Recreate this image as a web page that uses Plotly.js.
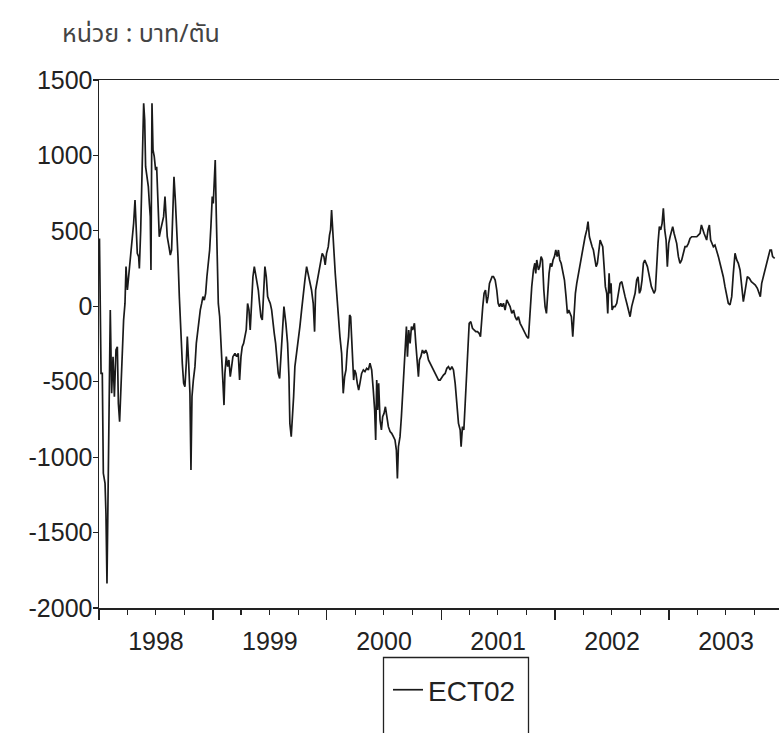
<!DOCTYPE html>
<html>
<head>
<meta charset="utf-8">
<script src="https://cdn.plot.ly/plotly-3.0.1.min.js"></script>
<style>html,body{margin:0;padding:0;background:#fff;overflow:hidden}</style>
</head>
<body>
<div id="chart" style="width:779px;height:733px"></div>
<script>
// Observation times as decimal years, and ECT02 values (baht/ton)
const decYear = [
1998.004,1998.018,1998.029,1998.038,1998.053,1998.061,1998.070,1998.076,1998.088,1998.099,
1998.111,1998.123,1998.135,1998.149,1998.161,1998.170,1998.181,1998.193,1998.205,1998.216,
1998.228,1998.237,1998.249,1998.257,1998.266,1998.278,1998.292,1998.304,1998.316,1998.325,
1998.336,1998.348,1998.354,1998.366,1998.374,1998.383,1998.392,1998.401,1998.409,1998.421,
1998.433,1998.442,1998.450,1998.456,1998.465,1998.474,1998.485,1998.497,1998.506,1998.518,
1998.529,1998.541,1998.556,1998.567,1998.579,1998.588,1998.599,1998.614,1998.626,1998.637,
1998.646,1998.658,1998.670,1998.681,1998.693,1998.705,1998.716,1998.731,1998.743,1998.754,
1998.766,1998.775,1998.787,1998.798,1998.807,1998.816,1998.828,1998.842,1998.854,1998.866,
1998.877,1998.889,1998.901,1998.912,1998.924,1998.936,1998.947,1998.959,1998.971,1998.982,
1998.994,1999.003,1999.012,1999.020,1999.029,1999.038,1999.047,1999.059,1999.067,1999.079,
1999.088,1999.097,1999.105,1999.117,1999.129,1999.140,1999.152,1999.164,1999.175,1999.193,
1999.208,1999.222,1999.234,1999.246,1999.257,1999.269,1999.281,1999.292,1999.304,1999.316,
1999.327,1999.339,1999.351,1999.363,1999.374,1999.386,1999.398,1999.409,1999.421,1999.433,
1999.444,1999.456,1999.468,1999.480,1999.491,1999.503,1999.515,1999.526,1999.538,1999.550,
1999.561,1999.573,1999.585,1999.623,1999.640,1999.655,1999.667,1999.675,1999.687,1999.696,
1999.708,1999.719,1999.734,1999.748,1999.763,1999.778,1999.792,1999.807,1999.822,1999.836,
1999.851,1999.865,1999.880,1999.892,1999.901,1999.915,1999.930,1999.944,1999.959,1999.974,
1999.985,1999.997,2000.012,2000.023,2000.032,2000.041,2000.050,2000.061,2000.073,2000.085,
2000.099,2000.114,2000.129,2000.143,2000.155,2000.167,2000.178,2000.190,2000.199,2000.208,
2000.216,2000.225,2000.234,2000.243,2000.254,2000.266,2000.278,2000.289,2000.304,2000.319,
2000.333,2000.348,2000.363,2000.377,2000.392,2000.406,2000.418,2000.427,2000.436,2000.444,
2000.453,2000.465,2000.477,2000.488,2000.500,2000.512,2000.523,2000.538,2000.553,2000.567,
2000.582,2000.596,2000.608,2000.617,2000.626,2000.640,2000.652,2000.664,2000.675,2000.687,
2000.696,2000.705,2000.716,2000.728,2000.740,2000.751,2000.766,2000.778,2000.789,2000.801,
2000.810,2000.822,2000.836,2000.851,2000.865,2000.877,2000.889,2000.903,2000.918,2000.933,
2000.947,2000.962,2000.977,2000.991,2001.006,2001.020,2001.035,2001.050,2001.064,2001.079,
2001.094,2001.108,2001.123,2001.137,2001.152,2001.167,2001.175,2001.187,2001.199,2001.211,
2001.222,2001.234,2001.246,2001.260,2001.275,2001.289,2001.304,2001.319,2001.333,2001.345,
2001.354,2001.365,2001.377,2001.389,2001.401,2001.412,2001.424,2001.436,2001.447,2001.459,
2001.474,2001.488,2001.500,2001.512,2001.523,2001.535,2001.547,2001.561,2001.576,2001.591,
2001.605,2001.620,2001.635,2001.649,2001.664,2001.678,2001.693,2001.708,2001.722,2001.737,
2001.751,2001.766,2001.781,2001.795,2001.810,2001.822,2001.830,2001.839,2001.854,2001.865,
2001.877,2001.889,2001.901,2001.912,2001.924,2001.936,2001.947,2001.959,2001.971,2001.982,
2001.994,2002.006,2002.018,2002.029,2002.041,2002.053,2002.067,2002.082,2002.096,2002.108,
2002.120,2002.132,2002.143,2002.155,2002.167,2002.178,2002.190,2002.205,2002.219,2002.234,
2002.249,2002.263,2002.278,2002.289,2002.301,2002.313,2002.325,2002.336,2002.348,2002.360,
2002.371,2002.383,2002.395,2002.406,2002.418,2002.430,2002.441,2002.453,2002.462,2002.474,
2002.482,2002.491,2002.500,2002.512,2002.526,2002.541,2002.556,2002.570,2002.585,2002.599,
2002.614,2002.629,2002.643,2002.658,2002.672,2002.687,2002.702,2002.716,2002.728,2002.740,
2002.751,2002.763,2002.775,2002.787,2002.798,2002.810,2002.822,2002.833,2002.845,2002.857,
2002.868,2002.880,2002.892,2002.903,2002.915,2002.927,2002.939,2002.950,2002.962,2002.974,
2002.985,2002.997,2003.009,2003.020,2003.032,2003.044,2003.056,2003.067,2003.082,2003.096,
2003.111,2003.126,2003.140,2003.155,2003.170,2003.184,2003.199,2003.213,2003.228,2003.243,
2003.257,2003.272,2003.284,2003.295,2003.307,2003.319,2003.330,2003.342,2003.354,2003.365,
2003.377,2003.389,2003.403,2003.418,2003.433,2003.447,2003.462,2003.476,2003.491,2003.506,
2003.520,2003.535,2003.550,2003.564,2003.579,2003.594,2003.608,2003.623,2003.637,2003.652,
2003.664,2003.675,2003.687,2003.705,2003.722,2003.740,2003.757,2003.775,2003.789,2003.801,
2003.813,2003.827,2003.842,2003.857,2003.871,2003.886,2003.898,2003.909,2003.927
];
const ect02 = [
450,-445,-445,-1107,-1174,-1373,-1837,-1395,-511,-24,
-577,-334,-599,-290,-268,-644,-765,-511,-378,-91,
19,263,108,174,285,373,461,550,704,506,
351,329,251,506,727,992,1345,1235,925,859,
793,682,594,240,1345,1036,992,903,925,682,
461,506,550,594,727,550,461,395,340,373,
550,859,704,550,329,64,-179,-378,-511,-533,
-378,-201,-378,-577,-1085,-599,-489,-400,-246,-157,
-91,-24,19,64,41,86,196,285,373,528,
727,682,815,970,616,285,19,-69,-224,-423,
-511,-655,-445,-334,-400,-356,-467,-400,-334,-312,
-334,-312,-489,-334,-268,-246,-201,-157,19,-24,
-157,41,196,263,218,174,108,19,-69,-91,
108,263,196,64,41,19,-24,-113,-179,-246,
-334,-445,-478,-2,-113,-246,-467,-776,-864,-776,
-599,-400,-312,-246,-135,-25,86,174,263,218,
174,108,20,-168,108,174,218,285,351,329,
274,351,395,472,506,638,484,373,218,86,
-69,-201,-312,-577,-467,-422,-290,-201,-58,-69,
-201,-378,-489,-422,-445,-511,-555,-511,-445,-422,
-433,-411,-422,-378,-422,-555,-688,-886,-489,-688,
-511,-754,-820,-732,-710,-666,-732,-798,-831,-842,
-864,-886,-953,-1141,-931,-864,-732,-555,-378,-246,
-135,-334,-157,-246,-135,-157,-113,-246,-334,-467,
-356,-334,-290,-312,-290,-312,-356,-378,-400,-422,
-445,-467,-489,-489,-467,-456,-445,-411,-400,-422,
-400,-422,-511,-643,-776,-820,-931,-798,-820,-643,
-467,-290,-113,-102,-146,-157,-168,-168,-179,-201,
-91,-2,86,108,20,64,152,174,196,196,
174,108,20,-2,20,-2,20,-25,42,20,
-2,-47,-25,-69,-91,-69,-113,-135,-157,-179,
-201,-212,-2,130,241,285,218,307,241,263,
329,307,108,-2,-47,108,218,285,263,307,
329,373,329,373,307,285,241,174,64,-47,
-25,-47,-69,-201,-2,86,152,218,285,351,
395,461,506,561,461,417,395,373,329,263,
285,373,439,417,395,263,130,86,-47,218,
86,152,-25,-2,-2,20,86,152,163,108,
64,20,-25,-69,-2,42,86,174,196,86,
108,174,285,307,285,263,218,174,130,108,
86,108,285,417,528,506,550,649,506,439,
263,417,461,506,528,484,439,417,329,285,
307,351,395,395,417,450,461,461,461,461,
472,484,539,506,484,461,439,506,539,439,
417,395,406,373,329,285,241,196,130,64,
20,9,64,218,351,307,285,241,152,31,
86,152,196,185,163,152,141,119,86,64,
152,196,241,285,329,373,373,329,318
];
const yTickVals = [-2000,-1500,-1000,-500,0,500,1000,1500];
const yTickText = ['-2000','-1500','-1000','-500','0','500','1000','1500'];
const seriesName = 'ECT02';
const unitTitle = 'หน่วย : บาท/ตัน';

function decToDate(d) {
  const y = Math.floor(d);
  const s = Date.UTC(y, 0, 1), e = Date.UTC(y + 1, 0, 1);
  return new Date(s + (d - y) * (e - s)).toISOString().slice(0, 19).replace('T', ' ');
}
const xDates = decYear.map(decToDate);

const font = 'Liberation Sans, Arial, sans-serif';
const ink = '#222';
const trace = {
  x: xDates, y: ect02, type: 'scatter', mode: 'lines', name: seriesName,
  line: {color: '#1a1a1a', width: 1.7}
};
const layout = {
  width: 779, height: 733,
  margin: {l: 99, r: 0, t: 80, b: 125},
  paper_bgcolor: '#fff', plot_bgcolor: '#fff',
  title: {
    text: unitTitle, xref: 'container', yref: 'container',
    x: 62 / 779, xanchor: 'left', y: 1 - 33 / 733, yanchor: 'middle',
    font: {family: 'Noto Sans Thai, Noto Sans, DejaVu Sans, sans-serif', size: 25, color: '#444', weight: 400}
  },
  showlegend: true,
  legend: {
    x: 0.425, y: -0.108, xanchor: 'left', yanchor: 'top',
    bgcolor: 'rgba(0,0,0,0)', borderwidth: 0,
    font: {family: font, size: 28, color: ink}
  },
  // legend frame drawn in page pixels (top edge at 657px, sides 383px and 528px, open at the page bottom)
  images: [],
  xaxis: {
    type: 'date',
    range: [decToDate(1998.0), decToDate(1998 + 680 / 114)],
    tick0: '1998-01-01', dtick: 'M12', tickformat: '%Y', ticklabelmode: 'period',
    ticks: 'outside', ticklen: 10, tickwidth: 1.2, tickcolor: ink,
    minor: {dtick: 'M3', ticks: 'outside', ticklen: 5, tickwidth: 1.2, tickcolor: ink, showgrid: false},
    showline: true, linecolor: ink, linewidth: 1.5, mirror: true,
    showgrid: false, zeroline: false,
    tickfont: {family: font, size: 25, color: ink}
  },
  yaxis: {
    range: [-2000, 1500], tickvals: yTickVals, ticktext: yTickText,
    ticks: '',
    minor: {tick0: 0, dtick: 500, ticks: 'outside', ticklen: 5, tickwidth: 1.2, tickcolor: ink, showgrid: false},
    showline: true, linecolor: ink, linewidth: 1.5, mirror: false,
    showgrid: false, zeroline: false,
    tickfont: {family: font, size: 25, color: ink}
  }
};
Plotly.newPlot('chart', [trace], layout, {staticPlot: true, displayModeBar: false}).then(function (gd) {
  // add the legend frame as an SVG path in the legend layer
  const svg = gd.querySelector('svg.main-svg:last-of-type') || gd.querySelector('svg.main-svg');
  const ns = 'http://www.w3.org/2000/svg';
  const p = document.createElementNS(ns, 'path');
  p.setAttribute('d', 'M383.5,740 L383.5,657.5 L528.5,657.5 L528.5,740');
  p.setAttribute('fill', 'none');
  p.setAttribute('stroke', ink);
  p.setAttribute('stroke-width', '1.3');
  const svgs = gd.querySelectorAll('svg.main-svg');
  svgs[svgs.length - 1].appendChild(p);
});
</script>
</body>
</html>
